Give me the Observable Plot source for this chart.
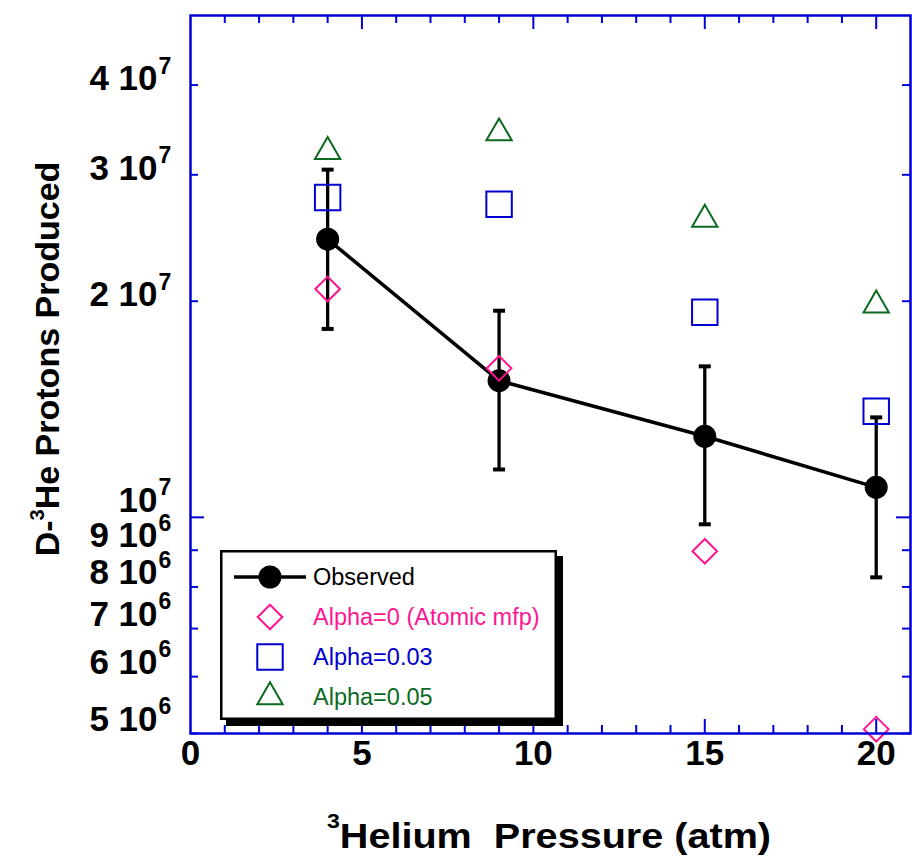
<!DOCTYPE html>
<html>
<head>
<meta charset="utf-8">
<script src="https://cdn.jsdelivr.net/npm/d3@7"></script>
<script src="https://cdn.jsdelivr.net/npm/@observablehq/plot@0.6"></script>
<style>
  body { margin: 0; background: #fff; }
  #chart { position: relative; width: 912px; height: 861px; font-family: "Liberation Sans", Arial, sans-serif; }
  #legend { position: absolute; left: 220px; top: 550px; }
</style>
</head>
<body>
<div id="chart"></div>
<script>
// 3He fill pressure (atm)
const pressure = [4, 9, 15, 20];

// Observed D-3He proton yield with error bar limits
const observed     = [2.44e7, 1.55e7, 1.297e7, 1.101e7];
const observedHigh = [3.05e7, 1.94e7, 1.623e7, 1.378e7];
const observedLow  = [1.83e7, 1.166e7, 9.78e6, 8.25e6];

// Model predictions for different mix (alpha) values
const alpha0   = [2.08e7, 1.613e7, 8.97e6, 5.07e6];
const alpha003 = [2.79e7, 2.73e7, 1.931e7, 1.405e7];
const alpha005 = [3.23e7, 3.43e7, 2.60e7, 1.975e7];

// Axis ticks and labels
const xTicks = [0, 5, 10, 15, 20];
const xMinorTicks = d3.range(1, 21);
const yTicks    = [5e6, 6e6, 7e6, 8e6, 9e6, 1e7, 2e7, 3e7, 4e7];
const yTickBase = ["5 10", "6 10", "7 10", "8 10", "9 10", "10", "2 10", "3 10", "4 10"];
const yTickExp  = ["6", "6", "6", "6", "6", "7", "7", "7", "7"];

const seriesNames = ["Observed", "Alpha=0 (Atomic mfp)", "Alpha=0.03", "Alpha=0.05"];

// Layout
const W = 912, H = 861;
const mL = 190, mR = 2, mT = 15, mB = 128;
const frameW = W - mL - mR, frameH = H - mT - mB;
const axisBlue = "#0000d8";
const pink = "#ff1493";
const blue = "#0000d0";
const green = "#0b6a1f";
const font = '"Liberation Sans", Arial, sans-serif';
const majorLen = 14, minorLen = 8;

const obs = pressure.map((x, i) => ({x, y: observed[i], lo: observedLow[i], hi: observedHigh[i]}));
const model = vals => pressure.map((x, i) => ({x, y: vals[i]}));

// short horizontal bar used as error-bar cap
const capSymbol = { draw(ctx) { ctx.moveTo(-6, 0); ctx.lineTo(6, 0); } };

const yRows = yTicks.map((v, i) => ({v, base: yTickBase[i], exp: yTickExp[i]}));

// tick labels: mantissa plus raised exponent
const yLabelMarks = (rows, dy) => [
  Plot.text(rows, {y: "v", text: "base", frameAnchor: "left", textAnchor: "end", dx: -33, dy,
    fontSize: 35, fontWeight: "bold", fill: "black"}),
  Plot.text(rows, {y: "v", text: "exp", frameAnchor: "left", textAnchor: "start", dx: -32, dy: dy - 12.7,
    fontSize: 23, fontWeight: "bold", fill: "black"})
];

const minorX = xMinorTicks.filter(d => d % 5 !== 0);
const majorX = xMinorTicks.filter(d => d % 5 === 0);
const minorY = yTicks.filter(d => d !== 1e7);
const majorY = [1e7];
const tickStyle = {stroke: axisBlue, strokeWidth: 2};

const svg = Plot.plot({
  width: W, height: H,
  marginLeft: mL, marginRight: mR, marginTop: mT, marginBottom: mB,
  x: {domain: [0, 21], axis: null},
  y: {type: "log", domain: [5e6, 5e7], axis: null},
  style: {fontFamily: font, background: "white", overflow: "visible"},
  marks: [
    // observed series: error bars, caps, connecting line, points
    Plot.ruleX(obs, {x: "x", y1: "lo", y2: "hi", stroke: "black", strokeWidth: 3.3}),
    Plot.dot(obs, {x: "x", y: "hi", symbol: capSymbol, r: 6, fill: "none", stroke: "black", strokeWidth: 4}),
    Plot.dot(obs, {x: "x", y: "lo", symbol: capSymbol, r: 6, fill: "none", stroke: "black", strokeWidth: 4}),
    Plot.line(obs, {x: "x", y: "y", stroke: "black", strokeWidth: 3.5}),
    Plot.dot(obs, {x: "x", y: "y", r: 11.5, fill: "black", stroke: "none"}),
    // model predictions
    Plot.dot(model(alpha0), {x: "x", y: "y", symbol: "diamond2", r: 11.1, fill: "none", stroke: pink, strokeWidth: 2}),
    Plot.dot(model(alpha003), {x: "x", y: "y", symbol: "square2", r: 16.2, fill: "none", stroke: blue, strokeWidth: 2}),
    Plot.dot(model(alpha005), {x: "x", y: "y", symbol: "triangle2", r: 12.1, fill: "none", stroke: green, strokeWidth: 2}),
    // axis box
    Plot.frame({stroke: axisBlue, strokeWidth: 2.5}),
    // inward ticks, bottom and top
    Plot.tickX(minorX, {x: d => d, ...tickStyle, insetTop: frameH - minorLen}),
    Plot.tickX(majorX, {x: d => d, ...tickStyle, insetTop: frameH - majorLen}),
    Plot.tickX(minorX, {x: d => d, ...tickStyle, insetBottom: frameH - minorLen}),
    Plot.tickX(majorX, {x: d => d, ...tickStyle, insetBottom: frameH - majorLen}),
    // inward ticks, left and right
    Plot.tickY(minorY, {y: d => d, ...tickStyle, insetRight: frameW - minorLen}),
    Plot.tickY(majorY, {y: d => d, ...tickStyle, insetRight: frameW - majorLen}),
    Plot.tickY(minorY, {y: d => d, ...tickStyle, insetLeft: frameW - minorLen}),
    Plot.tickY(majorY, {y: d => d, ...tickStyle, insetLeft: frameW - majorLen}),
    // tick labels
    Plot.text(xTicks, {x: d => d, text: d => String(d), frameAnchor: "bottom", dy: 31,
      fontSize: 35, fontWeight: "bold", fill: "black"}),
    ...yLabelMarks(yRows.filter(d => d.v >= 2e7), -6),
    ...yLabelMarks(yRows.filter(d => d.v === 1e7), -17),
    ...yLabelMarks(yRows.filter(d => d.v < 1e7), -14)
  ]
});

// axis titles with superscript mass number
const root = d3.select(svg);
const xTitle = root.append("text")
  .attr("transform", "translate(549,848) scale(1.1,1)")
  .attr("text-anchor", "middle")
  .style("font", `bold 36px ${font}`)
  .style("white-space", "pre")
  .attr("fill", "black");
xTitle.append("tspan").attr("font-size", 21).attr("dy", -20).text("3");
xTitle.append("tspan").attr("dy", 20).text("Helium  Pressure (atm)");

const yTitle = root.append("text")
  .attr("transform", "translate(59,359) rotate(-90)")
  .attr("text-anchor", "middle")
  .style("font", `bold 34px ${font}`)
  .attr("fill", "black");
yTitle.append("tspan").text("D-");
yTitle.append("tspan").attr("font-size", 20).attr("dy", -15).text("3");
yTitle.append("tspan").attr("dy", 15).text("He Protons Produced");

const chart = document.getElementById("chart");
chart.appendChild(svg);

// legend box with drop shadow
const lw = 337, lh = 170, shadow = 6;
const leg = d3.select(chart).append("svg")
  .attr("id", "legend")
  .attr("width", lw + shadow + 2).attr("height", lh + shadow + 2);
leg.append("rect").attr("x", shadow).attr("y", shadow).attr("width", lw).attr("height", lh).attr("fill", "black");
leg.append("rect").attr("x", 1.25).attr("y", 1.25).attr("width", lw - 2.5).attr("height", lh - 2.5)
  .attr("fill", "white").attr("stroke", "black").attr("stroke-width", 2.5);

const rowY = [27, 67, 107, 147];
const symX = 50, textX = 93;
const colors = ["black", pink, blue, green];
// observed: line with filled circle
leg.append("line").attr("x1", 14).attr("x2", 86).attr("y1", rowY[0]).attr("y2", rowY[0])
  .attr("stroke", "black").attr("stroke-width", 3.5);
leg.append("circle").attr("cx", symX).attr("cy", rowY[0]).attr("r", 11.5).attr("fill", "black");
const symSpecs = [[d3.symbolDiamond2, 11.1], [d3.symbolSquare2, 16.2], [d3.symbolTriangle2, 12.1]];
symSpecs.forEach(([sym, r], i) => {
  leg.append("path")
    .attr("d", d3.symbol(sym, Math.PI * r * r)())
    .attr("transform", `translate(${symX},${rowY[i + 1]})`)
    .attr("fill", "none").attr("stroke", colors[i + 1]).attr("stroke-width", 2);
});
seriesNames.forEach((name, i) => {
  leg.append("text").attr("x", textX).attr("y", rowY[i]).attr("dy", "0.35em")
    .style("font", `23.5px ${font}`).attr("fill", colors[i]).text(name);
});
</script>
</body>
</html>
